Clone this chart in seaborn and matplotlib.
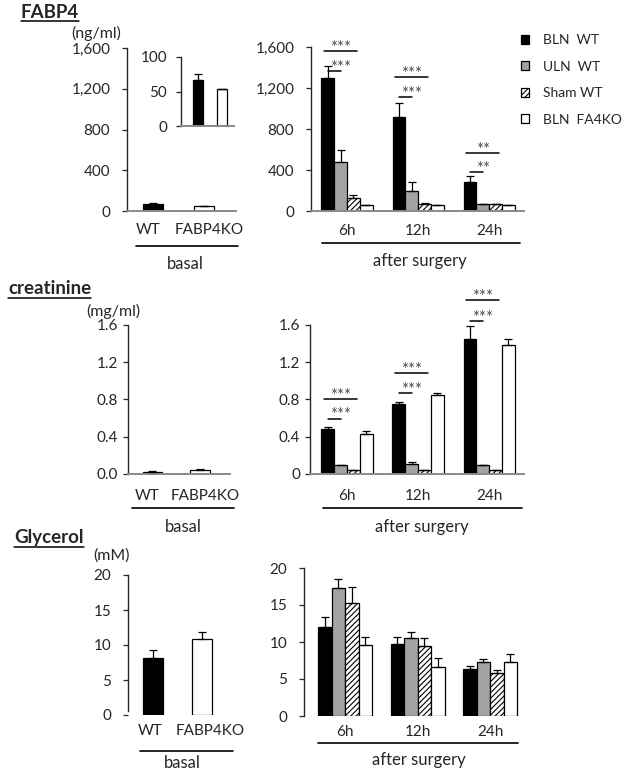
import numpy as np
import pandas as pd
import matplotlib.pyplot as plt
from matplotlib.lines import Line2D
from matplotlib.patches import Patch
from matplotlib.ticker import FuncFormatter
import seaborn as sns

# values
basal_labels = ['WT', 'FABP4KO']
times = ['6h', '12h', '24h']
groups = ['BLN  WT', 'ULN  WT', 'Sham WT', 'BLN  FA4KO']

# FABP4 (ng/ml)
fabp4_basal = [66, 53]
fabp4_basal_err = [10, 0]
fabp4_bln_wt = [1300, 920, 285]
fabp4_bln_wt_err = [115, 130, 60]
fabp4_uln_wt = [475, 200, 68]
fabp4_uln_wt_err = [120, 85, 4]
fabp4_sham_wt = [130, 72, 64]
fabp4_sham_wt_err = [25, 5, 4]
fabp4_bln_ko = [55, 55, 55]
fabp4_bln_ko_err = [0, 0, 0]
fabp4_stars = ['***', '***', '**']
fabp4_sig_low = [1367, 1113, 380]
fabp4_sig_high = [1562, 1308, 566]

# creatinine (mg/ml)
creat_basal = [0.025, 0.04]
creat_basal_err = [0.008, 0.01]
creat_bln_wt = [0.485, 0.75, 1.45]
creat_bln_wt_err = [0.025, 0.025, 0.135]
creat_uln_wt = [0.095, 0.11, 0.093]
creat_uln_wt_err = [0.005, 0.02, 0.005]
creat_sham_wt = [0.043, 0.04, 0.04]
creat_sham_wt_err = [0.005, 0.005, 0.005]
creat_bln_ko = [0.43, 0.843, 1.38]
creat_bln_ko_err = [0.027, 0.025, 0.07]
creat_stars = ['***', '***', '***']
creat_sig_low = [0.595, 0.873, 1.646]
creat_sig_high = [0.80, 1.08, 1.867]

# glycerol (mM)
gly_basal = [8.2, 10.9]
gly_basal_err = [1.05, 1.0]
gly_bln_wt = [12.0, 9.7, 6.35]
gly_bln_wt_err = [1.35, 1.0, 0.45]
gly_uln_wt = [17.35, 10.5, 7.35]
gly_uln_wt_err = [1.2, 0.85, 0.3]
gly_sham_wt = [15.3, 9.5, 5.85]
gly_sham_wt_err = [2.2, 1.05, 0.4]
gly_bln_ko = [9.6, 6.65, 7.35]
gly_bln_ko_err = [1.05, 1.15, 1.0]

bar_colors = ['black', '#a3a3a3', 'white', 'white']

sns.set_style('ticks')
plt.rcParams['font.family'] = ['Lato', 'DejaVu Sans']
plt.rcParams['hatch.linewidth'] = 0.8

W, H = 625, 772
fig = plt.figure(figsize=(W / 100, H / 100), dpi=100)
fig.patch.set_facecolor('white')


def fx(x):
    return x / W


def fy(y):
    return 1 - y / H


def box(x0, y0, x1, y1):
    return [fx(x0), fy(y1), (x1 - x0) / W, (y1 - y0) / H]


def label(x, y, s, size=12, **kw):
    kw.setdefault('ha', 'center')
    fig.text(fx(x), fy(y), s, va='center', fontsize=size, **kw)


def hline(x0, x1, y, lw=1.2):
    fig.add_artist(Line2D([fx(x0), fx(x1)], [fy(y), fy(y)], color='black',
                          lw=lw, transform=fig.transFigure))


titles = []


def title(x, y, s):
    t = fig.text(fx(x), fy(y), s, fontsize=13.5, fontweight='bold', va='center')
    titles.append((t, y))


def style(ax, ylim, yticks, fmt, ypad, xpad, xlim, bottom=True):
    sns.despine(ax=ax)
    ax.spines['left'].set_linewidth(1.0)
    if bottom:
        ax.spines['bottom'].set_color('#8a8a8a')
        ax.spines['bottom'].set_linewidth(1.4)
    else:
        ax.spines['bottom'].set_visible(False)
    ax.set_xlabel('')
    ax.set_ylabel('')
    ax.set_xlim(xlim)
    ax.set_ylim(ylim)
    ax.set_yticks(yticks)
    ax.yaxis.set_major_formatter(FuncFormatter(fmt))
    ax.tick_params(axis='x', length=0, pad=xpad, labelsize=11)
    ax.tick_params(axis='y', length=3.5, width=0.9, pad=ypad, labelsize=11,
                   direction='out')
    ax.set_facecolor('none')


def add_err(ax, cont, errs):
    x = [b.get_x() + b.get_width() / 2 for b in cont]
    h = [b.get_height() for b in cont]
    ax.errorbar(x, h, yerr=[np.zeros(len(errs)), errs], fmt='none',
                ecolor='black', elinewidth=0.9, capsize=3, capthick=0.9,
                zorder=3)


def basal_panel(rect, vals, errs, xlim, width, **kw):
    ax = fig.add_axes(rect)
    sns.barplot(x=basal_labels, y=vals, hue=basal_labels,
                palette=['black', 'white'], edgecolor='black', linewidth=0.9,
                width=width, errorbar=None, legend=False, ax=ax)
    for cont, e in zip(ax.containers, errs):
        add_err(ax, cont, [e])
    style(ax, xlim=xlim, **kw)
    return ax


def after_panel(rect, series, errs, xlim, width, **kw):
    ax = fig.add_axes(rect)
    df = pd.DataFrame({'time': np.tile(times, len(groups)),
                       'group': np.repeat(groups, len(times)),
                       'value': np.concatenate(series)})
    sns.barplot(data=df, x='time', y='value', hue='group', palette=bar_colors,
                edgecolor='black', linewidth=0.9, width=width, errorbar=None,
                legend=False, ax=ax)
    for bar in ax.containers[2]:
        bar.set_hatch('//////')
    for cont, e in zip(ax.containers, errs):
        add_err(ax, cont, e)
    style(ax, xlim=xlim, **kw)
    return ax


def add_sig(ax, stars, low, high):
    c = ax.containers
    for i in range(len(times)):
        xb = c[0][i].get_x() + c[0][i].get_width() / 2
        xg = c[1][i].get_x() + c[1][i].get_width() / 2
        xs = c[2][i].get_x() + c[2][i].get_width() / 2
        ax.plot([xb, xg], [low[i], low[i]], color='black', lw=1.1, clip_on=False)
        ax.plot([xb - 0.05, xs + 0.05], [high[i], high[i]], color='black',
                lw=1.1, clip_on=False)
        xm = (xb + xs) / 2
        for y in (low[i], high[i]):
            ax.annotate(stars[i], (xm, y), xytext=(0, -3.5),
                        textcoords='offset points', ha='center', va='bottom',
                        fontsize=12, color='#4d4d4d', annotation_clip=False)


def spread_labels(ax, shift_px):
    # nudge the two basal labels apart a little, as in the original
    from matplotlib.transforms import ScaledTranslation
    for lab, dx in zip(ax.get_xticklabels(), shift_px):
        lab.set_transform(lab.get_transform() +
                          ScaledTranslation(dx / 100, 0, fig.dpi_scale_trans))


thousands = lambda v, p: f'{int(v):,}'
plain = lambda v, p: f'{int(v)}'
one_dec = lambda v, p: f'{v:.1f}'
one_dec_0 = lambda v, p: '0' if v == 0 else f'{v:.1f}'

basal_xlim = (-0.51, 1.63)

# ---- FABP4 ----
title(21, 12, 'FABP4')
label(96, 33, '(ng/ml)', size=11.5)

ax_f0 = basal_panel(box(127, 48, 236, 211), fabp4_basal, fabp4_basal_err, basal_xlim, 0.4,
                    ylim=(0, 1600), yticks=[0, 400, 800, 1200, 1600], fmt=thousands,
                    ypad=8.5, xpad=8.5)
spread_labels(ax_f0, [-5, 5])
basal_panel(box(181, 57, 234, 126), fabp4_basal, fabp4_basal_err, (-0.71, 1.5), 0.42,
            ylim=(0, 100), yticks=[0, 50, 100], fmt=plain, ypad=6.5, xpad=0)
plt.gca().set_xticks([])

ax_f = after_panel(box(311, 47, 524, 211),
                   [fabp4_bln_wt, fabp4_uln_wt, fabp4_sham_wt, fabp4_bln_ko],
                   [fabp4_bln_wt_err, fabp4_uln_wt_err, fabp4_sham_wt_err, fabp4_bln_ko_err],
                   (-0.507, 2.49), 0.72,
                   ylim=(0, 1600), yticks=[0, 400, 800, 1200, 1600], fmt=thousands,
                   ypad=8.5, xpad=9)
add_sig(ax_f, fabp4_stars, fabp4_sig_low, fabp4_sig_high)

hline(136, 238, 246)
label(185, 264, 'basal')
hline(322, 520, 243)
label(420, 261, 'after surgery')

handles = [Patch(facecolor=c, edgecolor='black', lw=0.9, hatch=h)
           for c, h in zip(bar_colors, ['', '', '//////', ''])]
fig.legend(handles, groups, loc='upper left', bbox_to_anchor=(fx(521), fy(34)),
           frameon=False, fontsize=10, handlelength=0.6, handleheight=0.6,
           handletextpad=1.0, labelspacing=1.05, borderpad=0, borderaxespad=0)

# ---- creatinine ----
title(8, 289, 'creatinine')
label(113, 311, '(mg/ml)', size=11.5)

ax_c0 = basal_panel(box(128, 325, 230, 474), creat_basal, creat_basal_err, basal_xlim, 0.4,
                    ylim=(0, 1.6), yticks=[0, 0.4, 0.8, 1.2, 1.6], fmt=one_dec,
                    ypad=3.5, xpad=10.5)
spread_labels(ax_c0, [-5, 5])
ax_c = after_panel(box(310, 325, 524, 474),
                   [creat_bln_wt, creat_uln_wt, creat_sham_wt, creat_bln_ko],
                   [creat_bln_wt_err, creat_uln_wt_err, creat_sham_wt_err, creat_bln_ko_err],
                   (-0.52, 2.49), 0.72,
                   ylim=(0, 1.6), yticks=[0, 0.4, 0.8, 1.2, 1.6], fmt=one_dec_0,
                   ypad=3.5, xpad=10.5)
add_sig(ax_c, creat_stars, creat_sig_low, creat_sig_high)

hline(132, 234, 508)
label(183, 527, 'basal')
hline(323, 522, 508)
label(422, 527, 'after surgery')

# ---- Glycerol ----
title(14, 538, 'Glycerol')
label(112, 556, '(mM)', size=11.5)

ax_g0 = basal_panel(box(128, 575, 233, 715), gly_basal, gly_basal_err, basal_xlim, 0.4,
                    ylim=(0, 20), yticks=[0, 5, 10, 15, 20], fmt=plain,
                    ypad=8.5, xpad=6.5, bottom=False)
ax_g0.spines['left'].set_bounds(0.6, 20)
spread_labels(ax_g0, [-3, 8])
after_panel(box(304, 568, 522, 716),
            [gly_bln_wt, gly_uln_wt, gly_sham_wt, gly_bln_ko],
            [gly_bln_wt_err, gly_uln_wt_err, gly_sham_wt_err, gly_bln_ko_err],
            (-0.566, 2.44), 0.745,
            ylim=(0, 20), yticks=[0, 5, 10, 15, 20], fmt=plain,
            ypad=8.5, xpad=6.5, bottom=False)

hline(140, 233, 751)
label(182, 763, 'basal')
hline(318, 518, 743)
label(419, 760, 'after surgery')

# underline the section titles
fig.canvas.draw()
renderer = fig.canvas.get_renderer()
for t, y in titles:
    bb = t.get_window_extent(renderer)
    hline(bb.x0, bb.x1, y + 8.5, lw=1.1)

plt.savefig('out.png', dpi=100, facecolor='white')
